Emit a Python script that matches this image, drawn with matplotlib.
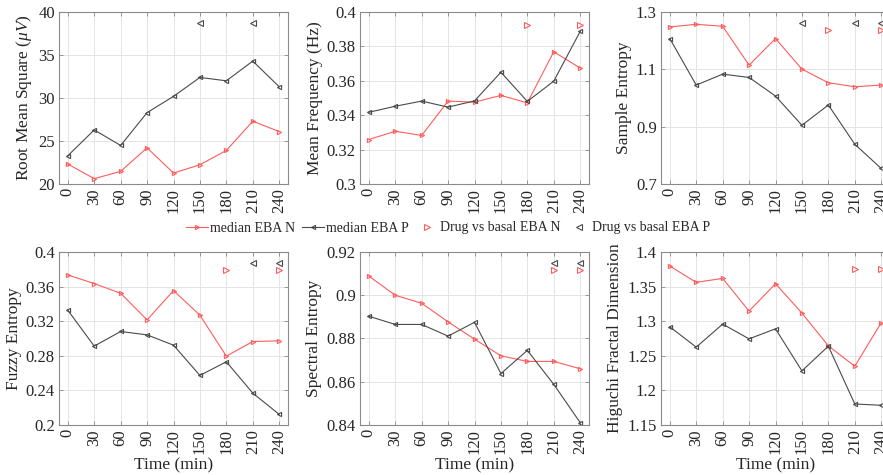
import matplotlib
matplotlib.use("Agg")
import matplotlib.pyplot as plt
from matplotlib.lines import Line2D

plt.rcParams['font.family'] = ['Liberation Serif', 'DejaVu Serif']
plt.rcParams['mathtext.fontset'] = 'custom'
plt.rcParams['mathtext.rm'] = 'Liberation Serif'
plt.rcParams['mathtext.it'] = 'Liberation Serif:italic'

# ---------------- data ----------------
times = [0, 30, 60, 90, 120, 150, 180, 210, 240]
time_labels = ['0', '30', '60', '90', '120', '150', '180', '210', '240']

rms_N = [22.32, 20.62, 21.47, 24.21, 21.27, 22.24, 23.90, 27.30, 26.10]
rms_P = [23.28, 26.29, 24.48, 28.30, 30.19, 32.39, 32.00, 34.29, 31.31]
rms_sigN_t, rms_sigN_y = [], []
rms_sigP_t, rms_sigP_y = [150, 210], [38.7, 38.7]

mf_N = [0.3258, 0.3307, 0.3282, 0.3482, 0.3476, 0.3515, 0.3472, 0.3769, 0.3674]
mf_P = [0.3417, 0.3452, 0.3482, 0.3447, 0.3483, 0.3650, 0.3480, 0.3598, 0.3887]
mf_sigN_t, mf_sigN_y = [180, 240], [0.3922, 0.3922]
mf_sigP_t, mf_sigP_y = [], []

se_N = [1.2479, 1.2571, 1.2502, 1.1146, 1.2073, 1.1007, 1.0532, 1.0393, 1.0451]
se_P = [1.2073, 1.0451, 1.0833, 1.0717, 1.0068, 0.9049, 0.9756, 0.8388, 0.7542]
se_sigN_t, se_sigN_y = [180, 240], [1.2363, 1.2363]
se_sigP_t, se_sigP_y = [150, 210, 240], [1.2618, 1.2618, 1.2618]

fe_N = [0.3735, 0.3635, 0.3523, 0.3215, 0.3554, 0.3269, 0.2796, 0.2965, 0.2973]
fe_P = [0.3327, 0.2912, 0.3081, 0.3042, 0.2923, 0.2573, 0.2731, 0.2369, 0.2123]
fe_sigN_t, fe_sigN_y = [180, 240], [0.3796, 0.3796]
fe_sigP_t, fe_sigP_y = [210, 240], [0.3869, 0.3869]

spe_N = [0.9089, 0.9000, 0.8963, 0.8877, 0.8797, 0.8720, 0.8694, 0.8694, 0.8660]
spe_P = [0.8903, 0.8865, 0.8865, 0.8811, 0.8875, 0.8638, 0.8745, 0.8588, 0.8411]
spe_sigN_t, spe_sigN_y = [210, 240], [0.9118, 0.9118]
spe_sigP_t, spe_sigP_y = [210, 240], [0.9151, 0.9151]

hfd_N = [1.3797, 1.3561, 1.3619, 1.3146, 1.3542, 1.3117, 1.2644, 1.2349, 1.2977]
hfd_P = [1.2919, 1.2625, 1.2958, 1.2745, 1.2890, 1.2282, 1.2639, 1.1804, 1.1785]
hfd_sigN_t, hfd_sigN_y = [210, 240], [1.3759, 1.3759]
hfd_sigP_t, hfd_sigP_y = [], []

ylabels = ['Root Mean Square ($\\mu V$)', 'Mean Frequency (Hz)', 'Sample Entropy',
           'Fuzzy Entropy', 'Spectral Entropy', 'Higuchi Fractal Dimension']
yticks = [
    [20, 25, 30, 35, 40],
    [0.3, 0.32, 0.34, 0.36, 0.38, 0.4],
    [0.7, 0.9, 1.1, 1.3],
    [0.2, 0.24, 0.28, 0.32, 0.36, 0.4],
    [0.84, 0.86, 0.88, 0.9, 0.92],
    [1.15, 1.2, 1.25, 1.3, 1.35, 1.4],
]
legend_labels = ['median EBA N', 'median EBA P', 'Drug vs basal EBA N', 'Drug vs basal EBA P']

panels = [
    (rms_N, rms_P, rms_sigN_t, rms_sigN_y, rms_sigP_t, rms_sigP_y),
    (mf_N, mf_P, mf_sigN_t, mf_sigN_y, mf_sigP_t, mf_sigP_y),
    (se_N, se_P, se_sigN_t, se_sigN_y, se_sigP_t, se_sigP_y),
    (fe_N, fe_P, fe_sigN_t, fe_sigN_y, fe_sigP_t, fe_sigP_y),
    (spe_N, spe_P, spe_sigN_t, spe_sigN_y, spe_sigP_t, spe_sigP_y),
    (hfd_N, hfd_P, hfd_sigN_t, hfd_sigN_y, hfd_sigP_t, hfd_sigP_y),
]

# ---------------- style ----------------
RED = '#ff5c5c'
DARK = '#4a4a4a'
W, H = 883, 475
fig = plt.figure(figsize=(W / 100, H / 100), dpi=100)

col_left = [59, 360, 661]
row_top = [12, 252]
row_bot = [184, 425]
ax_w = 229

for i, (yN, yP, sNt, sNy, sPt, sPy) in enumerate(panels):
    r, c = divmod(i, 3)
    l = col_left[c]
    t, b = row_top[r], row_bot[r]
    ax = fig.add_axes([l / W, 1 - b / H, ax_w / W, (b - t) / H])
    ax.plot(times, yN, color=RED, lw=0.8, marker='>', ms=3, mfc='none', mew=0.8)
    ax.plot(times, yP, color=DARK, lw=0.8, marker='<', ms=3, mfc='none', mew=0.8)
    ax.plot(sNt, sNy, ls='none', color=RED, marker='>', ms=4.5, mfc='none', mew=0.8)
    ax.plot(sPt, sPy, ls='none', color=DARK, marker='<', ms=4.5, mfc='none', mew=0.8)
    ax.set_xlim(-10, 250)
    yt = yticks[i]
    ax.set_ylim(yt[0], yt[-1])
    ax.set_yticks(yt)
    ax.set_yticklabels(['%g' % v for v in yt])
    ax.set_xticks(times)
    ax.set_xticklabels(time_labels, rotation=90)
    ax.grid(True, color='#e4e4e4', lw=0.7)
    ax.set_axisbelow(True)
    for s in ax.spines.values():
        s.set_color('#8a8a8a')
        s.set_linewidth(0.8)
    ax.tick_params(direction='in', length=3, width=0.6, color='#8a8a8a',
                   top=True, right=True, labelsize=12, labelcolor='#262626', pad=3)
    ax.set_ylabel(ylabels[i], fontsize=12.5, color='#262626', labelpad=3)
    if r == 1:
        ax.set_xlabel('Time (min)', fontsize=12.5, color='#262626', labelpad=2)

handles = [
    Line2D([], [], color=RED, lw=0.8, marker='>', ms=3, mfc='none', mew=0.8),
    Line2D([], [], color=DARK, lw=0.8, marker='<', ms=3, mfc='none', mew=0.8),
    Line2D([], [], ls='none', color=RED, marker='>', ms=4.5, mfc='none', mew=0.8),
    Line2D([], [], ls='none', color=DARK, marker='<', ms=4.5, mfc='none', mew=0.8),
]
fig.legend(handles, legend_labels, loc='center', bbox_to_anchor=(448 / W, 1 - 228 / H),
           ncol=4, frameon=False, prop={'size': 10}, handlelength=1.6,
           handletextpad=0.15, columnspacing=0.5, labelcolor='#262626')

fig.savefig('out.png', dpi=100)
